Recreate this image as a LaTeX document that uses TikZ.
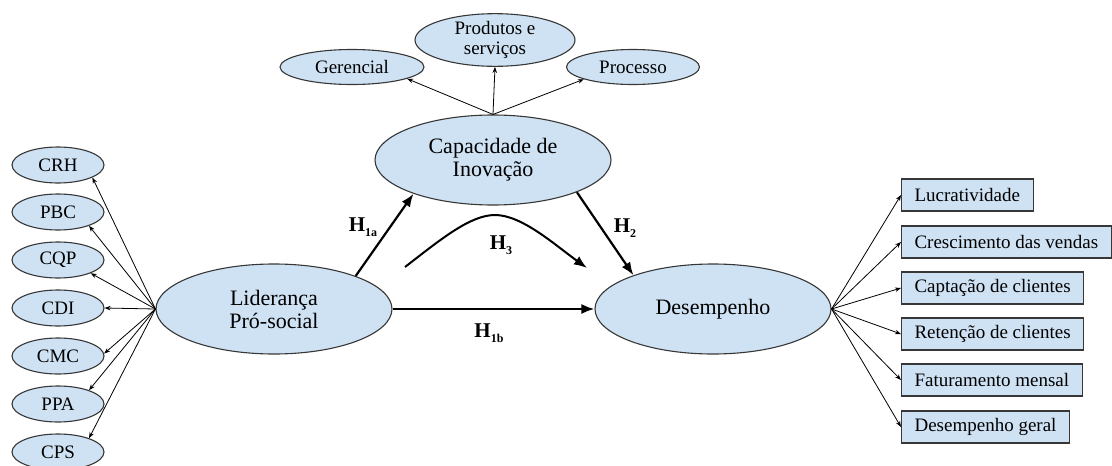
\documentclass[tikz,border=0pt]{standalone}
\usepackage{fontspec}
\setmainfont{Liberation Serif}
\usetikzlibrary{shapes.geometric,arrows.meta}
\definecolor{ellfill}{RGB}{207,226,243}
\definecolor{ellline}{RGB}{55,55,55}
\newcommand{\hyp}[1]{\textbf{H}\raisebox{-0.55ex}{\fontsize{12}{12}\selectfont\textbf{#1}}}

\begin{document}
\begin{tikzpicture}[x=1pt,y=-1pt,
  ell/.style={ellipse,draw=ellline,fill=ellfill,line width=1.1pt,inner sep=0pt,align=center},
  small/.style={ell,minimum width=92pt,minimum height=36pt,font=\fontsize{19}{20}\selectfont},
  big/.style={ell,minimum width=236pt,minimum height=90pt,font=\fontsize{22}{23}\selectfont},
  ind/.style={draw=ellline,fill=ellfill,line width=1.1pt,anchor=west,minimum height=32pt,inner xsep=13pt,inner ysep=0pt,font=\fontsize{19}{20}\selectfont},
  thin/.style={-{Stealth[length=6pt,width=4.5pt]},line width=0.8pt},
  thick/.style={-{Latex[length=13pt,width=10pt]},line width=2.2pt},
  hlab/.style={font=\fontsize{21}{21}\selectfont}]
\useasboundingbox (0,0) rectangle (1112,466);
% constructs
\node[big] (lid) at (274,309) {Liderança\\Pró-social};
\node[big] (cap) at (493,160) {Capacidade de\\Inovação};
\node[big] (des) at (713,309) {Desempenho};
% lideranca
\node[small] (crh) at (58,165) {CRH};
\node[small] (pbc) at (58,212) {PBC};
\node[small] (cqp) at (58,260) {CQP};
\node[small] (cdi) at (58,308) {CDI};
\node[small] (cmc) at (58,356) {CMC};
\node[small] (ppa) at (58,404) {PPA};
\node[small] (cps) at (58,452) {CPS};
\draw[thin] (lid.west) -- (crh.-20);
\draw[thin] (lid.west) -- (pbc.-24);
\draw[thin] (lid.west) -- (cqp.-22);
\draw[thin] (lid.west) -- (cdi.east);
\draw[thin] (lid.west) -- (cmc.3);
\draw[thin] (lid.west) -- (ppa.24);
\draw[thin] (lid.west) -- (cps.24);
% inovacao
\node[small,minimum width=144pt,minimum height=35pt] (ger) at (352,67) {Gerencial};
\node[small,minimum width=160pt,minimum height=44pt] (prod) at (495,40) {Produtos e\\serviços};
\node[small,minimum width=133pt,minimum height=35pt] (proc) at (633,67) {Processo};
\draw[thin] (cap.north) -- (ger.-12);
\draw[thin] (cap.north) -- (prod.south);
\draw[thin] (cap.north) -- (proc.-166);
% desempenho
\node[ind] (luc) at (901,195) {Lucratividade};
\node[ind] (cre) at (901,242) {Crescimento das vendas};
\node[ind] (cli) at (901,288) {Captação de clientes};
\node[ind] (ret) at (901,334) {Retenção de clientes};
\node[ind] (fat) at (901,380) {Faturamento mensal};
\node[ind] (ger2) at (901,427) {Desempenho geral};
\draw[thin] (des.east) -- (luc.west);
\draw[thin] (des.east) -- (cre.west);
\draw[thin] (des.east) -- (cli.west);
\draw[thin] (des.east) -- (ret.west);
\draw[thin] (des.east) -- (fat.west);
\draw[thin] (des.east) -- (ger2.west);
% hipoteses
\draw[thick] (lid.22) -- (cap.203);
\draw[thick] (cap.-21) -- (des.157);
\draw[thick] (lid.east) -- (des.west);
\coordinate (h3a) at (405,267);
\coordinate (h3b) at (495,215);
\coordinate (h3c) at (587,268);
\draw[thick,line width=2pt] (h3a) .. controls (440,240) and (470,215) .. (h3b)
  .. controls (522,215) and (555,245) .. (h3c);
\node[hlab] (h1a) at (363,227) {\hyp{1a}};
\node[hlab] (h2) at (625,228) {\hyp{2}};
\node[hlab] (h3) at (501,245) {\hyp{3}};
\node[hlab] (h1b) at (489,333) {\hyp{1b}};
\end{tikzpicture}
\end{document}
